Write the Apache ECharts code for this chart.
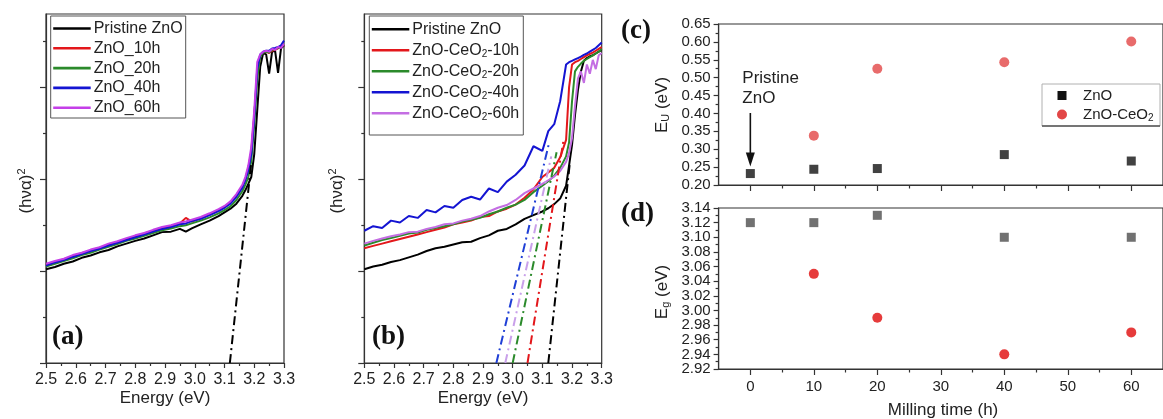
<!DOCTYPE html>
<html>
<head>
<meta charset="utf-8">
<script src="https://cdn.jsdelivr.net/npm/echarts@6/dist/echarts.min.js"></script>
<style>
  html, body { margin: 0; padding: 0; background: #fff; }
  #chart { width: 1163px; height: 419px; }
</style>
</head>
<body>
<div id="chart"></div>
<script>
// ---------- (a) Tauc plots, ball-milled ZnO ----------
const EA = [2.50,2.53,2.56,2.59,2.62,2.65,2.68,2.71,2.74,2.77,2.80,2.83,2.86,2.89,2.92,2.95,
            2.97,2.99,3.02,3.05,3.08,3.10,3.12,3.14,3.16,3.17,3.18,3.19,3.20,3.21,3.22,3.23,
            3.24,3.25,3.26,3.27,3.28,3.29,3.30];
const A_PRISTINE = [2.04,2.09,2.16,2.21,2.29,2.34,2.41,2.46,2.54,2.60,2.66,2.71,2.78,2.85,2.86,2.92,
                    2.86,2.93,3.02,3.10,3.20,3.28,3.36,3.47,3.64,3.76,3.90,4.05,4.55,5.50,6.45,6.75,
                    6.72,6.30,6.78,6.80,6.32,6.85,6.92];
const A_10H = [2.14,2.20,2.26,2.32,2.39,2.45,2.51,2.57,2.63,2.70,2.75,2.82,2.88,2.93,2.98,3.04,
               3.16,3.08,3.15,3.23,3.32,3.40,3.50,3.64,3.84,4.00,4.25,4.60,5.40,6.25,6.70,6.76,
               6.78,6.75,6.80,6.82,6.85,6.88,6.93];
const A_20H = [2.10,2.16,2.22,2.28,2.35,2.40,2.47,2.53,2.59,2.66,2.71,2.77,2.83,2.89,2.93,2.98,
               3.00,3.04,3.10,3.17,3.26,3.33,3.41,3.55,3.74,3.88,4.05,4.40,5.20,6.20,6.68,6.76,
               6.78,6.76,6.82,6.84,6.86,6.88,6.94];
const A_40H = [2.12,2.19,2.24,2.31,2.37,2.44,2.49,2.56,2.62,2.68,2.74,2.80,2.86,2.92,2.96,3.02,
               3.04,3.09,3.14,3.22,3.31,3.38,3.47,3.62,3.82,3.98,4.20,4.55,5.35,6.40,6.72,6.78,
               6.80,6.80,6.85,6.86,6.88,6.92,7.02];
const A_60H = [2.16,2.22,2.27,2.35,2.40,2.47,2.52,2.60,2.65,2.72,2.78,2.83,2.90,2.96,3.00,3.06,
               3.08,3.12,3.18,3.26,3.35,3.42,3.52,3.68,3.88,4.05,4.30,4.70,5.50,6.55,6.72,6.78,
               6.80,6.78,6.84,6.82,6.88,6.86,6.95];
// linear extrapolation of the absorption edge: [energy, value] end points
const TAN_A = [[3.118, 0], [3.19, 4.36]];

// ---------- (b) Tauc plots, ZnO-CeO2 ----------
const EB = [2.50,2.53,2.56,2.59,2.62,2.65,2.68,2.71,2.74,2.77,2.80,2.83,2.86,2.89,2.92,2.95,
            2.98,3.01,3.04,3.07,3.10,3.12,3.14,3.16,3.18,3.19,3.20,3.21,3.22,3.23,3.24,3.25,
            3.26,3.27,3.28,3.29,3.30];
const B_PRISTINE = [2.04,2.10,2.14,2.20,2.24,2.30,2.36,2.44,2.50,2.53,2.58,2.63,2.64,2.72,2.78,2.88,
                    2.92,3.02,3.14,3.22,3.30,3.37,3.46,3.58,3.86,4.30,4.75,5.40,5.95,6.35,6.58,6.64,
                    6.68,6.70,6.74,6.78,6.82];
const B_10H = [2.50,2.55,2.60,2.65,2.70,2.75,2.80,2.85,2.90,2.95,3.02,3.06,3.10,3.18,3.20,3.30,
               3.36,3.45,3.60,3.78,4.05,4.15,4.25,4.48,4.86,6.00,6.50,6.55,6.58,6.62,6.66,6.70,
               6.73,6.76,6.80,6.84,6.88];
const B_20H = [2.56,2.62,2.68,2.72,2.77,2.82,2.84,2.90,2.94,2.98,3.02,3.08,3.12,3.16,3.24,3.30,
               3.38,3.45,3.55,3.72,3.86,3.96,4.08,4.25,4.50,4.80,5.70,6.35,6.45,6.52,6.58,6.62,
               6.66,6.70,6.74,6.78,6.84];
const B_40H = [2.88,2.98,2.94,3.10,3.06,3.20,3.16,3.33,3.28,3.42,3.38,3.55,3.62,3.56,3.80,3.72,
               3.95,4.10,4.30,4.72,4.62,5.05,5.20,5.70,6.50,6.55,6.58,6.61,6.64,6.67,6.71,6.74,
               6.78,6.82,6.86,6.92,6.98];
const B_60H = [2.60,2.66,2.71,2.76,2.80,2.85,2.86,2.92,2.96,3.02,3.04,3.10,3.14,3.20,3.30,3.38,
               3.44,3.55,3.70,3.80,3.90,3.98,4.06,4.18,4.38,4.57,4.90,5.60,6.20,6.35,6.10,6.50,
               6.30,6.60,6.40,6.70,6.75];
const TAN_B_PRISTINE = [[3.12, 0], [3.192, 4.32]];
const TAN_B_10H = [[3.05, 0], [3.172, 4.88]];
const TAN_B_20H = [[3.00, 0], [3.148, 4.59]];
const TAN_B_40H = [[2.945, 0], [3.123, 4.80]];
const TAN_B_60H = [[2.975, 0], [3.130, 4.50]];

// ---------- (c), (d) Urbach energy and band gap vs milling time ----------
const MILL_H = [0, 10, 20, 40, 60];
const EU_ZNO = [0.232, 0.244, 0.246, 0.285, 0.267];
const EU_CEO2 = [null, 0.338, 0.525, 0.543, 0.601];
const EG_ZNO = [3.12, 3.12, 3.13, 3.10, 3.10];
const EG_CEO2 = [null, 3.05, 2.99, 2.94, 2.97];

// tick positions and labels
const Y_MAJOR_AB = [0, 2, 4, 6];
const Y_MINOR_AB = [1, 3, 5, 7];
const X_MAJOR_CD = [0, 10, 20, 30, 40, 50, 60];
const X_MINOR_CD = [5, 15, 25, 35, 45, 55];
// band-gap labels are split over two axes so that none of them is dropped
const EG_LABELS_1 = [2.92, 2.96, 3.00, 3.04, 3.08, 3.12];
const EG_LABELS_2 = [2.94, 2.98, 3.02, 3.06, 3.10, 3.14];

const FONT = '"Liberation Sans", Arial, sans-serif';
const SERIF = '"Liberation Serif", "Times New Roman", serif';
const AXIS_COLOR = '#333';
const TEXT_COLOR = '#222';

const COL = {
  black: '#000000', red: '#e3171b', green: '#2b8a2b', blue: '#1414d2',
  magA: '#c43fe8', violetB: '#c46ee3', violetDash: '#c9a0ea', blueDash: '#1f3fd6'
};

const pairs = (xs, ys) => xs.map((x, i) => [x, ys[i]]).filter(p => p[1] != null);

const chart = echarts.init(document.getElementById('chart'), null, { renderer: 'canvas' });

const axisLine = { show: true, onZero: false, lineStyle: { color: AXIS_COLOR, width: 1.2 } };
const noLine = { show: false, onZero: false };
const tickStyle = { color: AXIS_COLOR, width: 1.2 };

function energyAxis(gridIndex) {
  return {
    type: 'value', gridIndex, min: 2.5, max: 3.3, interval: 0.1,
    axisLine, splitLine: { show: false },
    axisTick: { show: true, length: 5, lineStyle: tickStyle },
    minorTick: { show: true, splitNumber: 2, length: 3, lineStyle: tickStyle },
    axisLabel: { show: true, margin: 9, fontSize: 16, fontFamily: FONT, color: TEXT_COLOR,
                 showMinLabel: true, showMaxLabel: true, formatter: v => v.toFixed(1) }
  };
}
function tauYAxis(gridIndex, ticks, len, withLine) {
  return { type: 'value', gridIndex, min: 0, max: 7.6, position: 'left',
           axisLine: withLine ? axisLine : noLine,
           splitLine: { show: false }, axisLabel: { show: false },
           axisTick: { show: true, length: len, lineStyle: tickStyle, customValues: ticks } };
}
function millAxis(gridIndex, ticks, len, withLine, showLabels) {
  return { type: 'value', gridIndex, min: -5, max: 65, position: 'bottom',
           axisLine: withLine ? axisLine : noLine, splitLine: { show: false },
           axisTick: { show: true, length: len, lineStyle: tickStyle, customValues: ticks },
           axisLabel: { show: showLabels, customValues: ticks, margin: 10, fontSize: 15,
                        fontFamily: FONT, color: TEXT_COLOR } };
}
const yLabelStyle = (digits, custom) => Object.assign({
  show: true, margin: 8, fontSize: 15, fontFamily: FONT, color: TEXT_COLOR,
  showMinLabel: true, showMaxLabel: true, formatter: v => v.toFixed(digits)
}, custom ? { customValues: custom } : {});
function valueYAxis(gridIndex, min, max, interval, digits, custom) {
  return {
    type: 'value', gridIndex, min, max, interval, position: 'left', axisLine,
    splitLine: { show: false },
    axisTick: { show: true, length: 5, lineStyle: tickStyle },
    minorTick: { show: true, splitNumber: 2, length: 3, lineStyle: tickStyle },
    axisLabel: yLabelStyle(digits, custom)
  };
}
function labelOnlyYAxis(gridIndex, min, max, digits, custom) {
  return { type: 'value', gridIndex, min, max, position: 'left', axisLine: noLine,
           splitLine: { show: false }, axisTick: { show: false },
           axisLabel: yLabelStyle(digits, custom) };
}
const hiddenAxis = (gridIndex) => ({ type: 'value', gridIndex, min: 0, max: 1, show: false });

function curve(xi, yi, xs, ys, color, z) {
  return { type: 'line', xAxisIndex: xi, yAxisIndex: yi, data: pairs(xs, ys), symbol: 'none',
           lineStyle: { color, width: 2 }, silent: true, z: z || 2, clip: true };
}
function edgeLine(xi, yi, pts, color) {
  return { type: 'line', xAxisIndex: xi, yAxisIndex: yi, data: pts, symbol: 'none',
           lineStyle: { color, width: 2, type: [9, 4, 2, 4] }, silent: true, z: 5, clip: true };
}
function dots(xi, yi, ys, symbol, size, color) {
  return { type: 'scatter', xAxisIndex: xi, yAxisIndex: yi, data: pairs(MILL_H, ys),
           symbol, symbolSize: size, itemStyle: { color }, silent: true, z: 4 };
}

const RECT_A = { left: 46, top: 14, width: 238, height: 349 };
const RECT_B = { left: 364.3, top: 14, width: 237.4, height: 349 };
const RECT_C = { left: 718.6, top: 24, width: 450, height: 161 };
const RECT_D = { left: 718.6, top: 208, width: 450, height: 161 };
const boxed = r => Object.assign({ show: true, borderColor: AXIS_COLOR, borderWidth: 1.2,
                                   backgroundColor: 'transparent' }, r);
const bare = r => Object.assign({ show: false }, r);

const option = {
  animation: false,
  backgroundColor: '#ffffff',
  grid: [
    boxed(RECT_A), boxed(RECT_B), boxed(RECT_C), boxed(RECT_D),
    // twin grids carrying the short (minor) ticks and the second set of band-gap labels
    bare(RECT_A), bare(RECT_B), bare(RECT_C), bare(RECT_D)
  ],
  xAxis: [
    energyAxis(0),
    energyAxis(1),
    millAxis(2, X_MAJOR_CD, 6, true, false),
    millAxis(3, X_MAJOR_CD, 6, true, true),
    hiddenAxis(4),
    hiddenAxis(5),
    millAxis(6, X_MINOR_CD, 3.5, false, false),
    millAxis(7, X_MINOR_CD, 3.5, false, false)
  ],
  yAxis: [
    tauYAxis(0, Y_MAJOR_AB, 6, true),
    tauYAxis(1, Y_MAJOR_AB, 6, true),
    valueYAxis(2, 0.20, 0.65, 0.05, 2),
    valueYAxis(3, 2.92, 3.14, 0.02, 2, EG_LABELS_1),
    tauYAxis(4, Y_MINOR_AB, 3, false),
    tauYAxis(5, Y_MINOR_AB, 3, false),
    hiddenAxis(6),
    labelOnlyYAxis(7, 2.92, 3.14, 2, EG_LABELS_2)
  ],
  series: [
    // (a)
    curve(0, 0, EA, A_PRISTINE, COL.black, 2),
    curve(0, 0, EA, A_10H, COL.red, 3),
    curve(0, 0, EA, A_20H, COL.green, 3),
    curve(0, 0, EA, A_40H, COL.blue, 3),
    curve(0, 0, EA, A_60H, COL.magA, 3),
    edgeLine(0, 0, TAN_A, COL.black),
    // (b)
    curve(1, 1, EB, B_PRISTINE, COL.black, 2),
    curve(1, 1, EB, B_10H, COL.red, 3),
    curve(1, 1, EB, B_20H, COL.green, 3),
    curve(1, 1, EB, B_40H, COL.blue, 3),
    curve(1, 1, EB, B_60H, COL.violetB, 3),
    edgeLine(1, 1, TAN_B_PRISTINE, COL.black),
    edgeLine(1, 1, TAN_B_10H, COL.red),
    edgeLine(1, 1, TAN_B_20H, COL.green),
    edgeLine(1, 1, TAN_B_40H, COL.blueDash),
    edgeLine(1, 1, TAN_B_60H, COL.violetDash),
    // (c)
    dots(2, 2, EU_ZNO, 'rect', 9, '#111111'),
    dots(2, 2, EU_CEO2, 'circle', 10, '#e24646'),
    // (d)
    dots(3, 3, EG_ZNO, 'rect', 9, '#4d4d4d'),
    dots(3, 3, EG_CEO2, 'circle', 10, '#e00a0a')
  ]
};
chart.setOption(option);

// ---------- text, legends and annotation ----------
const txt = (x, y, text, extra) => ({
  type: 'text', x, y, silent: true, z: 20,
  style: Object.assign({ text, fontFamily: FONT, fontSize: 16, fill: TEXT_COLOR,
                         align: 'left', verticalAlign: 'middle' }, extra || {})
});
const richBase = (size) => ({
  n: { fontSize: size, fontFamily: FONT, fill: TEXT_COLOR },
  sub: { fontSize: Math.round(size * 0.65), fontFamily: FONT, fill: TEXT_COLOR, padding: [8, 0, 0, 0] },
  sup: { fontSize: Math.round(size * 0.65), fontFamily: FONT, fill: TEXT_COLOR, padding: [0, 0, 8, 0] }
});

function lineLegend(x, y, w, h, rowY, items) {
  const els = [{ type: 'rect', silent: true, z: 18,
    shape: { x, y, width: w, height: h },
    style: { fill: '#fff', stroke: '#555', lineWidth: 1 } }];
  items.forEach((it, i) => {
    const cy = rowY[i];
    els.push({ type: 'line', silent: true, z: 19,
      shape: { x1: x + 2.5, y1: cy, x2: x + 40, y2: cy },
      style: { stroke: it.color, lineWidth: 2.6 } });
    els.push(txt(x + 43, cy, it.text, { rich: richBase(16), fontSize: 16 }));
  });
  return els;
}

const graphics = [];
// legend (a)
graphics.push(...lineLegend(50.7, 16, 135, 102, [28.5, 48.3, 68.1, 87.9, 107.7], [
  { color: COL.black, text: '{n|Pristine ZnO}' },
  { color: COL.red, text: '{n|ZnO_10h}' },
  { color: COL.green, text: '{n|ZnO_20h}' },
  { color: COL.blue, text: '{n|ZnO_40h}' },
  { color: COL.magA, text: '{n|ZnO_60h}' }
]));
// legend (b)
graphics.push(...lineLegend(369.3, 16, 154, 119, [29.3, 50.3, 71.3, 92.3, 113.3], [
  { color: COL.black, text: '{n|Pristine ZnO}' },
  { color: COL.red, text: '{n|ZnO-CeO}{sub|2}{n|-10h}' },
  { color: COL.green, text: '{n|ZnO-CeO}{sub|2}{n|-20h}' },
  { color: COL.blue, text: '{n|ZnO-CeO}{sub|2}{n|-40h}' },
  { color: COL.violetB, text: '{n|ZnO-CeO}{sub|2}{n|-60h}' }
]));

// panel letters
const letter = (x, y, t) => txt(x, y, t, { fontFamily: SERIF, fontWeight: 'bold', fontSize: 27, fill: '#111' });
graphics.push(letter(52, 337, '(a)'), letter(372, 337, '(b)'),
              letter(621, 31, '(c)'), letter(621, 214, '(d)'));

// axis titles
graphics.push(txt(165, 398, 'Energy (eV)', { align: 'center', fontSize: 17 }));
graphics.push(txt(483, 398, 'Energy (eV)', { align: 'center', fontSize: 17 }));
graphics.push(txt(943, 410, 'Milling time (h)', { align: 'center', fontSize: 17 }));
const vtitle = (x, y, text) => ({
  type: 'text', x, y, rotation: Math.PI / 2, silent: true, z: 20,
  style: { text, rich: richBase(17), align: 'center', verticalAlign: 'middle' }
});
graphics.push(vtitle(26, 191, '{n|(hνα)}{sup|2}'));
graphics.push(vtitle(337, 191, '{n|(hνα)}{sup|2}'));
graphics.push(vtitle(662, 105, '{n|E}{sub|U}{n| (eV)}'));
graphics.push(vtitle(662, 292, '{n|E}{sub|g}{n| (eV)}'));

// legend (c)
graphics.push({ type: 'rect', silent: true, z: 18, shape: { x: 1042, y: 84, width: 118, height: 42 },
                style: { fill: '#fff', stroke: '#b0b0b0', lineWidth: 1 } });
graphics.push({ type: 'line', silent: true, z: 19, shape: { x1: 1042, y1: 126, x2: 1160, y2: 126 },
                style: { stroke: '#555', lineWidth: 1.5 } });
graphics.push({ type: 'rect', silent: true, z: 19, shape: { x: 1057.5, y: 91, width: 9, height: 9 },
                style: { fill: '#111' } });
graphics.push({ type: 'circle', silent: true, z: 19, shape: { cx: 1062, cy: 114.5, r: 5 },
                style: { fill: '#e24646' } });
graphics.push(txt(1083, 95.5, '{n|ZnO}', { rich: richBase(15) }));
graphics.push(txt(1083, 114.5, '{n|ZnO-CeO}{sub|2}', { rich: richBase(15) }));

// "Pristine ZnO" note with arrow pointing at the 0 h point
const p0 = chart.convertToPixel({ xAxisIndex: 2, yAxisIndex: 2 }, [MILL_H[0], EU_ZNO[0]]);
const ax = p0[0];
const tipY = p0[1] - 7;
graphics.push(txt(ax - 8, 78, 'Pristine', { fontSize: 17 }));
graphics.push(txt(ax - 8, 98, 'ZnO', { fontSize: 17 }));
graphics.push({ type: 'line', silent: true, z: 19, shape: { x1: ax, y1: 113, x2: ax, y2: tipY - 10 },
                style: { stroke: '#111', lineWidth: 1.6 } });
graphics.push({ type: 'polygon', silent: true, z: 19,
                shape: { points: [[ax - 4.5, tipY - 14], [ax + 4.5, tipY - 14], [ax, tipY]] },
                style: { fill: '#111' } });

chart.setOption({ graphic: { elements: graphics } });
</script>
</body>
</html>
